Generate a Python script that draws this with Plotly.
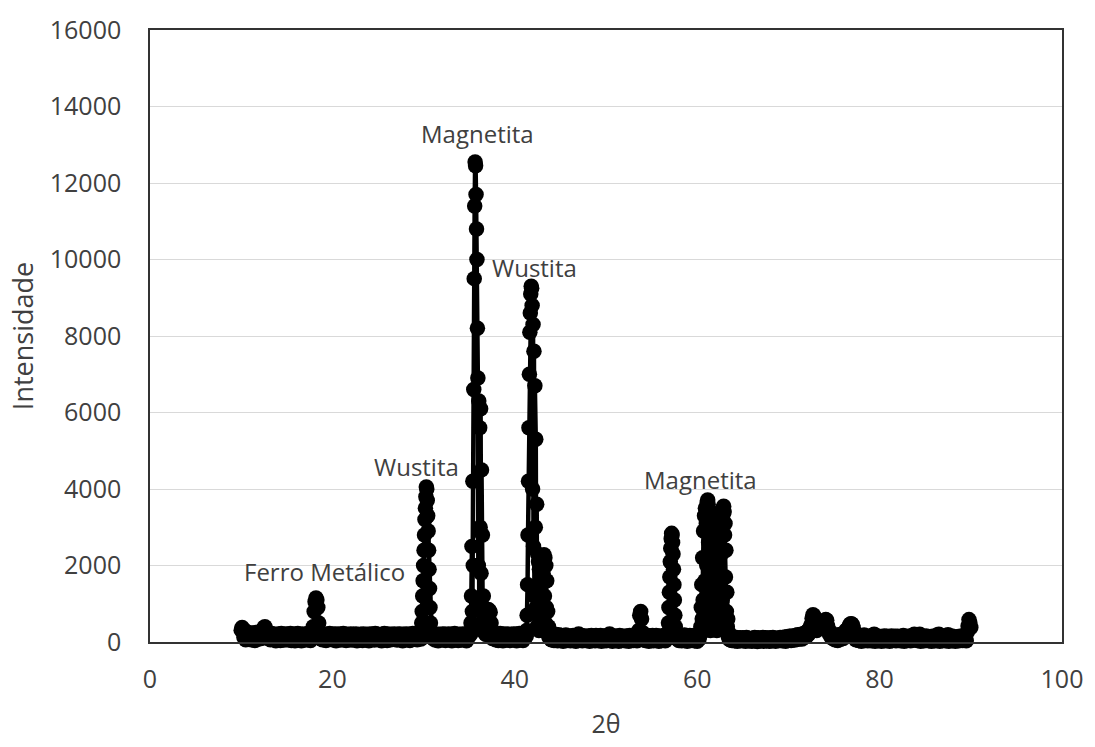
import plotly.graph_objects as go

# Difratograma de raios X (2θ de 10° a 90°).
# Fundo medido com passo de 0,1°; regiões dos picos com passo de 0,05°.
passo_fundo = 0.1
passo_pico = 0.05

# Fundo 10,0° - 29,7° (inclui o pico do ferro metálico em ~18,2°)
fundo_10_29 = [
    310, 380, 260, 120, 300, 60, 220, 150, 80, 240,          # 10
    140, 60, 230, 110, 190, 40, 250, 130, 70, 210,           # 11
    120, 260, 90, 310, 180, 370, 400, 330, 160, 250,         # 12
    110, 230, 60, 220, 140, 210, 80, 190, 30, 200,           # 13
    150, 70, 210, 40, 220, 120, 180, 50, 200, 100,           # 14
    210, 60, 170, 130, 220, 40, 200, 90, 160, 30,            # 15
    210, 110, 220, 60, 190, 140, 30, 210, 80, 170,           # 16
    50, 200, 120, 220, 70, 180, 40, 210, 150, 400,           # 17
    800, 1050, 1150, 1100, 900, 500, 250, 90, 210, 60,       # 18
    210, 100, 180, 40, 200, 140, 70, 220, 110, 190,          # 19
    60, 200, 130, 210, 30, 170, 90, 210, 150, 50,            # 20
    200, 120, 220, 70, 190, 40, 200, 100, 170, 60,           # 21
    210, 130, 50, 200, 160, 80, 210, 30, 190, 120,           # 22
    70, 200, 150, 40, 210, 100, 180, 60, 200, 140,           # 23
    30, 200, 110, 210, 70, 170, 50, 220, 130, 90,            # 24
    200, 60, 190, 140, 30, 200, 120, 220, 80, 160,           # 25
    40, 210, 100, 180, 60, 200, 150, 70, 210, 110,           # 26
    190, 50, 200, 130, 210, 80, 170, 30, 200, 120,           # 27
    60, 210, 150, 90, 200, 40, 180, 120, 220, 70,            # 28
    200, 110, 210, 60, 170, 130, 200, 80,                    # 29.0 - 29.7
]

# Pico da wustita, 29,75° - 30,80°
pico_wustita_30 = [
    250, 500, 800, 1200, 1600, 2000, 2400, 2800, 3200, 3500, 3800,
    4050, 4000, 3700, 3300, 2900, 2400, 1900, 1400, 900, 500, 250,
]

# Fundo 30,9° - 35,1°
fundo_31_35 = [
    150,                                                     # 30.9
    210, 80, 190, 50, 200, 140, 30, 200, 100, 170,           # 31
    60, 210, 120, 200, 40, 180, 90, 210, 150, 70,            # 32
    200, 30, 170, 110, 220, 60, 190, 130, 40, 200,           # 33
    100, 180, 50, 210, 140, 70, 200, 30, 190, 120,           # 34
    250, 200,                                                # 35.0 - 35.1
]

# Pico principal da magnetita, 35,15° - 37,60°
pico_magnetita_35 = [
    200, 500, 1200, 2500, 800, 4200, 2000, 6600,             # 35.15 - 35.50
    9500, 11400, 12550, 12450, 11700, 10800, 10000, 8200,    # 35.55 - 35.90
    6900, 2000, 6300, 900, 5600, 3000, 6100, 1800,           # 35.95 - 36.30
    4500, 500, 2800, 300, 1200, 400, 700, 250,               # 36.35 - 36.70
    600, 200, 400, 200, 400, 300, 600, 850,                  # 36.75 - 37.10
    300, 820, 500, 780, 250, 500, 150, 200,                  # 37.15 - 37.50
    90, 170,                                                 # 37.55 - 37.60
]

# Fundo 37,7° - 41,2°
fundo_38_41 = [
    140, 210, 60,                                            # 37.7 - 37.9
    200, 120, 40, 190, 220, 70, 160, 30, 210, 110,           # 38
    180, 50, 210, 100, 150, 40, 200, 130, 70, 210,           # 39
    90, 200, 30, 170, 120, 220, 60, 190, 140, 40,            # 40
    200, 110, 180,                                           # 41.0 - 41.2
]

# Pico principal da wustita, 41,25° - 43,80°
pico_wustita_42 = [
    150, 300, 700, 1500, 2800, 4200, 5600, 7000,             # 41.25 - 41.60
    8100, 8600, 9100, 9300, 9250, 8800, 4000, 8300,          # 41.65 - 42.00
    2500, 7600, 1200, 6700, 3000, 5300, 900, 3600,           # 42.05 - 42.40
    400, 2300, 700, 2100, 300, 1900, 600, 2200,              # 42.45 - 42.80
    400, 1700, 900, 2100, 300, 1800, 700, 2280,              # 42.85 - 43.20
    1200, 2200, 500, 2000, 900, 1600, 300, 800,              # 43.25 - 43.60
    200, 400, 120, 200,                                      # 43.65 - 43.80
]

# Fundo 43,9° - 56,7° (inclui o pico menor em ~53,8°)
fundo_44_56 = [
    130,                                                     # 43.9
    60, 180, 130, 40, 200, 90, 160, 30, 190, 110,            # 44
    50, 170, 120, 20, 150, 80, 180, 40, 130, 60,             # 45
    160, 30, 140, 90, 170, 50, 120, 20, 170, 100,            # 46
    210, 150, 60, 170, 30, 130, 90, 160, 40, 140,            # 47
    70, 160, 20, 120, 170, 50, 140, 90, 30, 170,             # 48
    110, 40, 150, 80, 170, 20, 130, 60, 160, 90,             # 49
    30, 140, 100, 180, 210, 60, 150, 20, 120, 80,            # 50
    160, 50, 130, 90, 20, 170, 110, 40, 150, 70,             # 51
    120, 30, 160, 80, 140, 20, 170, 100, 60, 150,            # 52
    40, 130, 90, 170, 30, 120, 300, 700, 800, 600,           # 53
    250, 90, 160, 40, 130, 70, 170, 20, 110, 150,            # 54
    60, 170, 30, 140, 90, 170, 50, 120, 20, 160,             # 55
    100, 40, 150, 70, 170, 30, 130, 90,                      # 56.0 - 56.7
]

# Pico da magnetita, 56,75° - 57,70°
pico_magnetita_57 = [
    150, 250, 500, 900, 1300, 1700, 2100, 2450, 2700, 2840,
    2800, 2600, 2300, 1900, 1500, 1100, 700, 400, 200, 120,
]

# Fundo 57,8° - 60,3°
fundo_58_60 = [
    80, 150,                                                 # 57.8 - 57.9
    40, 170, 110, 30, 160, 80, 180, 50, 130, 20,             # 58
    150, 90, 170, 40, 120, 60, 170, 30, 140, 100,            # 59
    20, 160, 70, 180,                                        # 60.0 - 60.3
]

# Picos da magnetita, 60,35° - 63,50°
pico_magnetita_61_63 = [
    200, 400, 900, 1500, 600, 2200, 1100, 2900,              # 60.35 - 60.70
    800, 3300, 1600, 3500, 500, 3100, 2000, 3650,            # 60.75 - 61.10
    3710, 3600, 2600, 3400, 1000, 3250, 300, 3000,           # 61.15 - 61.50
    1800, 2700, 600, 2400, 1300, 2900, 400, 2100,            # 61.55 - 61.90
    1600, 2600, 800, 3000, 300, 3200, 1900, 2800,            # 61.95 - 62.30
    700, 3300, 1400, 3100, 500, 3400, 2300, 3450,            # 62.35 - 62.70
    1100, 3300, 3500, 3550, 3400, 2800, 3100, 1700,          # 62.75 - 63.10
    2400, 800, 1300, 400, 600, 150, 250, 80,                 # 63.15 - 63.50
]

# Fundo 63,6° - 90,0°
fundo_64_90 = [
    60, 110, 40, 90,                                         # 63.6 - 63.9
    100, 30, 80, 120, 20, 90, 50, 110, 30, 70,               # 64
    110, 40, 90, 20, 120, 60, 100, 30, 80, 50,               # 65
    20, 100, 60, 120, 40, 90, 10, 110, 70, 30,               # 66
    90, 50, 120, 20, 80, 110, 40, 100, 60, 20,               # 67
    110, 30, 70, 120, 50, 90, 20, 100, 60, 80,               # 68
    40, 120, 80, 30, 110, 60, 130, 20, 90, 140,              # 69
    60, 150, 100, 40, 160, 80, 130, 50, 170, 110,            # 70
    190, 70, 160, 120, 200, 80, 180, 220, 130, 240,          # 71
    150, 280, 200, 350, 260, 450, 620, 715, 680, 520,        # 72
    400, 300, 460, 350, 480, 380, 520, 450, 540, 500,        # 73
    560, 585, 570, 420, 300, 200, 260, 120, 180, 90,         # 74
    150, 60, 170, 100, 40, 190, 120, 70, 200, 140,           # 75
    90, 210, 150, 300, 200, 330, 380, 440, 470, 480,         # 76
    460, 380, 250, 150, 60, 200, 110, 40, 170, 90,           # 77
    20, 150, 80, 180, 40, 120, 160, 30, 140, 70,             # 78
    110, 30, 170, 60, 200, 20, 160, 90, 40, 150,             # 79
    70, 140, 20, 120, 80, 160, 30, 110, 150, 50,             # 80
    130, 20, 100, 160, 40, 120, 70, 150, 30, 90,             # 81
    150, 60, 110, 30, 140, 80, 170, 20, 100, 130,            # 82
    40, 120, 70, 160, 30, 110, 150, 60, 200, 90,             # 83
    170, 40, 130, 80, 200, 20, 110, 60, 140, 30,             # 84
    100, 160, 50, 120, 30, 140, 90, 20, 150, 70,             # 85
    130, 30, 110, 180, 60, 200, 20, 100, 160, 40,            # 86
    80, 150, 30, 120, 60, 190, 20, 110, 70, 160,             # 87
    40, 120, 90, 20, 140, 60, 110, 30, 150, 80,              # 88
    130, 40, 160, 70, 120, 30, 250, 420, 585, 500,           # 89
    380,                                                     # 90.0
]

# (ângulo inicial, passo, intensidades) de cada trecho da varredura
trechos = [
    (10.0, passo_fundo, fundo_10_29),
    (29.75, passo_pico, pico_wustita_30),
    (30.9, passo_fundo, fundo_31_35),
    (35.15, passo_pico, pico_magnetita_35),
    (37.7, passo_fundo, fundo_38_41),
    (41.25, passo_pico, pico_wustita_42),
    (43.9, passo_fundo, fundo_44_56),
    (56.75, passo_pico, pico_magnetita_57),
    (57.8, passo_fundo, fundo_58_60),
    (60.35, passo_pico, pico_magnetita_61_63),
    (63.6, passo_fundo, fundo_64_90),
]

two_theta = []
intensidade = []
for inicio, passo, valores in trechos:
    two_theta += [round(inicio + passo * i, 2) for i in range(len(valores))]
    intensidade += valores

# Identificação das fases nos picos principais
fases = ["Magnetita", "Wustita", "Wustita", "Ferro Metálico", "Magnetita"]
fases_x = [35.9, 42.2, 29.2, 19.1, 60.4]
fases_y = [13300, 9800, 4600, 1850, 4250]

texto_cor = "#404040"
fonte = "Open Sans"

fig = go.Figure()
fig.add_trace(go.Scatter(
    x=two_theta,
    y=intensidade,
    mode="lines+markers",
    line=dict(color="black", width=4.5),
    marker=dict(color="black", size=15.5, line=dict(width=0)),
    cliponaxis=False,
    showlegend=False,
))

for nome, xa, ya in zip(fases, fases_x, fases_y):
    fig.add_annotation(
        x=xa, y=ya, text=nome, showarrow=False,
        font=dict(family=fonte, size=24, color=texto_cor),
        xanchor="center", yanchor="middle",
    )

fig.update_layout(
    width=1095,
    height=747,
    margin=dict(l=150, r=33, t=28, b=105),
    paper_bgcolor="white",
    plot_bgcolor="white",
    font=dict(family=fonte, color=texto_cor),
    xaxis=dict(
        range=[0, 100],
        tick0=0,
        dtick=20,
        showgrid=False,
        zeroline=False,
        showline=True,
        linecolor="#333333",
        linewidth=1.5,
        mirror=True,
        ticks="",
        ticklabelstandoff=14,
        tickfont=dict(family=fonte, size=25, color=texto_cor),
        title=dict(text="2θ", font=dict(family=fonte, size=25, color=texto_cor), standoff=22),
    ),
    yaxis=dict(
        range=[0, 16000],
        tick0=0,
        dtick=2000,
        tickformat="d",
        showgrid=True,
        gridcolor="#d9d9d9",
        gridwidth=1,
        zeroline=False,
        showline=True,
        linecolor="#333333",
        linewidth=1.5,
        mirror=True,
        ticks="",
        ticklabelstandoff=22,
        tickfont=dict(family=fonte, size=25, color=texto_cor),
        title=dict(text="Intensidade", font=dict(family=fonte, size=27, color=texto_cor), standoff=8),
    ),
)

fig.write_html("out.html")
